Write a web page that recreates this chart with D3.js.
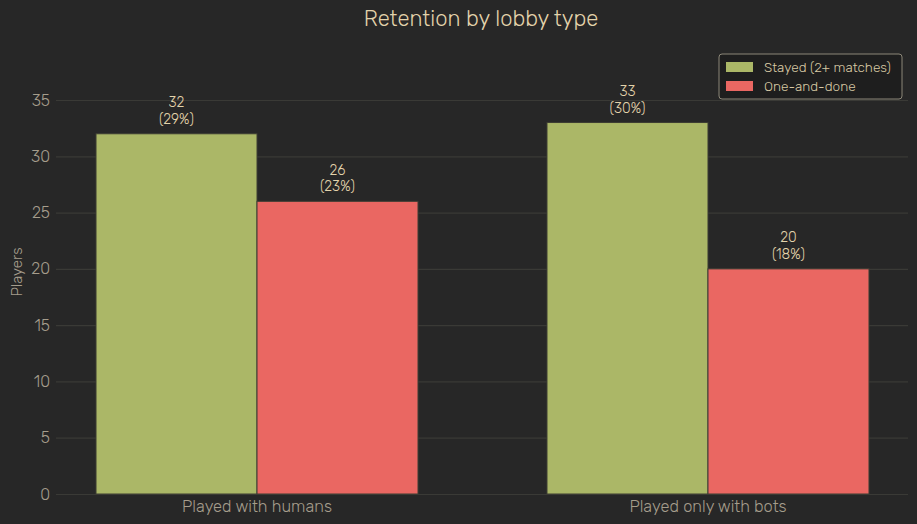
<html>
<head>
<meta charset="UTF-8">
<style>
  body { margin: 0; background: #272727; }
  text { font-family: "Rubik", "Noto Sans", sans-serif; font-weight: 300; }
</style>
</head>
<body>
<script src="https://d3js.org/d3.v7.min.js"></script>
<script>

var width = 917;
var height = 524;

// data
var categories = ["Played with humans", "Played only with bots"];
var seriesNames = ["Stayed (2+ matches)", "One-and-done"];
var stayed = [32, 33];
var oneAndDone = [26, 20];
var yTicks = [0, 5, 10, 15, 20, 25, 30, 35];

var colors = ["#abb767", "#ea6762"];
var total = d3.sum(stayed) + d3.sum(oneAndDone);

var margin = { left: 56, right: 9, top: 100, bottom: 30 };

var svg = d3.select("body").append("svg")
    .attr("width", width).attr("height", height)
    .style("background", "#272727");

var x = d3.scaleBand()
    .domain(categories)
    .range([margin.left + 1, width - margin.right])
    .paddingInner(0.286)
    .paddingOuter(0.0865);

var xs = d3.scaleBand()
    .domain(seriesNames)
    .range([0, x.bandwidth()]);

var y = d3.scaleLinear()
    .domain([0, 35])
    .range([494, 100]);

// grid
var yAxis = d3.axisLeft(y).tickValues(yTicks).tickSize(-(width - margin.right - margin.left)).tickPadding(6);
var gy = svg.append("g")
    .attr("transform", "translate(" + margin.left + ",0)")
    .call(yAxis);
gy.select(".domain").remove();
gy.selectAll(".tick line").attr("stroke", "#3a3a36").attr("stroke-width", 1.2);
gy.selectAll(".tick text")
    .attr("fill", "#a59d8c")
    .style("font-size", "16px");

// y label
svg.append("text")
    .attr("transform", "translate(22,272) rotate(-90)")
    .attr("text-anchor", "middle")
    .attr("fill", "#a59d8c")
    .style("font-size", "15px")
    .text("Players");

// bars
var rows = categories.map(function(c, i) {
    return [
        { cat: c, series: seriesNames[0], value: stayed[i], color: colors[0] },
        { cat: c, series: seriesNames[1], value: oneAndDone[i], color: colors[1] }
    ];
});

var groups = svg.selectAll(".grp")
    .data(rows)
    .enter().append("g")
    .attr("class", "grp")
    .attr("transform", function(d) { return "translate(" + x(d[0].cat) + ",0)"; });

groups.selectAll("rect")
    .data(function(d) { return d; })
    .enter().append("rect")
    .attr("x", function(d) { return xs(d.series); })
    .attr("width", xs.bandwidth())
    .attr("y", function(d) { return y(d.value); })
    .attr("height", function(d) { return y(0) - y(d.value); })
    .attr("fill", function(d) { return d.color; })
    .attr("stroke", "#3d3d33")
    .attr("stroke-width", 1);

// value labels, two lines each
var cx = function(d) { return xs(d.series) + xs.bandwidth() / 2; };
groups.selectAll(".val")
    .data(function(d) { return d; })
    .enter().append("text")
    .attr("class", "val")
    .attr("text-anchor", "middle")
    .attr("fill", "#e3d3ab")
    .style("font-size", "14px")
    .attr("x", cx)
    .attr("y", function(d) { return y(d.value) - 26.5; })
    .text(function(d) { return d.value; });
groups.selectAll(".pct")
    .data(function(d) { return d; })
    .enter().append("text")
    .attr("class", "pct")
    .attr("text-anchor", "middle")
    .attr("fill", "#e3d3ab")
    .style("font-size", "14px")
    .attr("x", cx)
    .attr("y", function(d) { return y(d.value) - 10; })
    .text(function(d) { return "(" + Math.round(d.value / total * 100) + "%)"; });

// x axis labels
var gx = svg.append("g")
    .attr("transform", "translate(0," + y(0) + ")")
    .call(d3.axisBottom(x).tickSize(0).tickPadding(6));
gx.select(".domain").remove();
gx.selectAll(".tick text")
    .attr("fill", "#a59d8c")
    .style("font-size", "16.4px");

// title
svg.append("text")
    .attr("x", 481).attr("y", 26)
    .attr("text-anchor", "middle")
    .attr("fill", "#e3d3ab")
    .style("font-size", "22px")
    .text("Retention by lobby type");

// legend
var legend = svg.append("g").attr("transform", "translate(719,54)");
legend.append("rect")
    .attr("width", 183).attr("height", 45)
    .attr("rx", 3)
    .attr("fill", "#1e1e1e")
    .attr("stroke", "#8c8778")
    .attr("stroke-width", 1);
var li = legend.selectAll(".li")
    .data(seriesNames)
    .enter().append("g")
    .attr("transform", function(d, i) { return "translate(7," + (8 + i * 19) + ")"; });
li.append("rect")
    .attr("width", 27).attr("height", 10)
    .attr("fill", function(d, i) { return colors[i]; });
li.append("text")
    .attr("x", 38).attr("y", 9.5)
    .attr("fill", "#d8c9a4")
    .style("font-size", "13.6px")
    .text(function(d) { return d; });

</script>
</body>
</html>
